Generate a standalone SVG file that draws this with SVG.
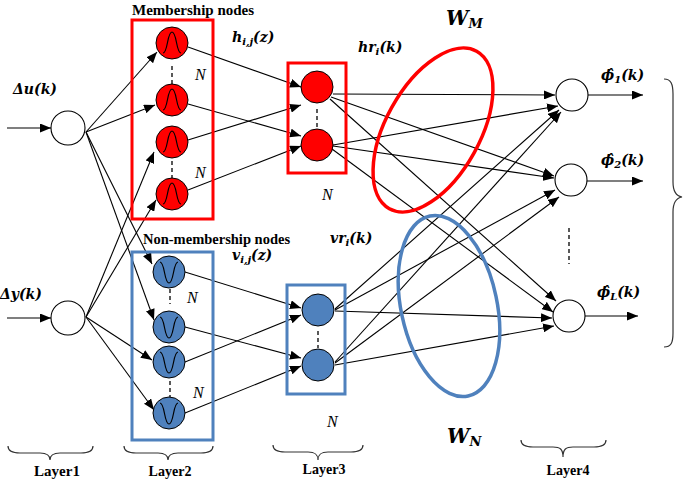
<svg xmlns="http://www.w3.org/2000/svg" width="685" height="482" viewBox="0 0 685 482">
<defs>
<marker id="ah" markerUnits="userSpaceOnUse" markerWidth="11" markerHeight="9" refX="11" refY="4.5" orient="auto">
<path d="M0,0 L11,4.5 L0,9 z" fill="#000"/>
</marker>
<style>
.ln{stroke:#000;stroke-width:1.1;fill:none}
.ar{stroke:#000;stroke-width:1.1;fill:none;marker-end:url(#ah)}
.wn{fill:#fff;stroke:#000;stroke-width:1.1}
.rn{fill:#ff0000;stroke:#000;stroke-width:1}
.bn{fill:#4f81bd;stroke:#000;stroke-width:1}
.gl{fill:none;stroke:#000;stroke-width:1.2}
.ds{stroke:#000;stroke-width:1.3;stroke-dasharray:4,3}
.rb{fill:none;stroke:#ff0000;stroke-width:3}
.bb{fill:none;stroke:#4f81bd;stroke-width:3}
.br{fill:none;stroke:#333;stroke-width:1.2}
.m{font-family:"DejaVu Serif",serif;font-weight:bold;font-style:italic;font-size:14px;fill:#000}
.t{font-family:"Liberation Serif",serif;font-weight:bold;font-size:14px;fill:#000}
.n{font-family:"Liberation Serif",serif;font-style:italic;font-size:16px;fill:#000}
</style>
</defs>

<g id="connectors">
<path class="ar" d="M7,128 L51,128"/>
<path class="ar" d="M7,318 L51,318"/>
<path class="ar" d="M86,132 L157,52"/>
<path class="ar" d="M86,132 L155,105"/>
<path class="ar" d="M86,132 L152,264"/>
<path class="ar" d="M86,132 L154,320"/>
<path class="ar" d="M86,317 L154,152"/>
<path class="ar" d="M86,317 L156,200"/>
<path class="ar" d="M86,317 L152,360"/>
<path class="ar" d="M86,317 L154,410"/>
<path class="ar" d="M188,47 L301,87"/>
<path class="ar" d="M188,104 L301,136"/>
<path class="ar" d="M188,140 L301,105"/>
<path class="ar" d="M188,190 L301,146"/>
<path class="ar" d="M185,272 L301,308"/>
<path class="ar" d="M185,327 L301,358"/>
<path class="ar" d="M185,362 L301,315"/>
<path class="ar" d="M185,413 L301,366"/>
<path class="ar" d="M333,94 L555,95"/>
<path class="ar" d="M331,97 L554,176"/>
<path class="ar" d="M330,99 L556,301"/>
<path class="ar" d="M333,145 L558,106"/>
<path class="ar" d="M333,146 L554,178"/>
<path class="ar" d="M332,149 L553,312"/>
<path class="ar" d="M335,309 L559,110"/>
<path class="ar" d="M335,310 L555,190"/>
<path class="ar" d="M335,311 L552,318"/>
<path class="ar" d="M335,362 L561,112"/>
<path class="ar" d="M335,363 L559,197"/>
<path class="ar" d="M335,365 L554,326"/>
<path class="ar" d="M588,95 L643,95"/>
<path class="ar" d="M587,181 L643,181"/>
<path class="ar" d="M585,316 L638,316"/>
</g>

<g id="membership-box">
<rect class="rb" x="132" y="20" width="81" height="199"/>
<text class="t" x="132" y="15" style="font-size:15px">Membership nodes</text>
<line class="ds" x1="172" y1="66" x2="172" y2="84"/>
<line class="ds" x1="172" y1="161" x2="172" y2="178"/>
<text class="n" x="195" y="80">N</text>
<text class="n" x="195" y="178">N</text>
</g>
<g id="nonmembership-box">
<rect class="bb" x="132" y="252" width="81" height="188"/>
<text class="t" x="143" y="244" style="font-size:14.5px">Non-membership nodes</text>
<line class="ds" x1="170" y1="289" x2="170" y2="304"/>
<line class="ds" x1="170" y1="381" x2="170" y2="397"/>
<text class="n" x="187" y="303">N</text>
<text class="n" x="193" y="398">N</text>
</g>

<g id="input-u"><circle class="wn" cx="68" cy="128" r="17"/><text class="m" x="13" y="94">Δu(k)</text></g>
<g id="input-y"><circle class="wn" cx="68" cy="318" r="17"/><text class="m" x="0" y="299">Δy(k)</text></g>

<g id="m1"><circle class="rn" cx="172" cy="43" r="16"/><path class="gl" d="M163,53 C168,53 167,32 172,32 C177,32 176,53 181,53"/></g>
<g id="m2"><circle class="rn" cx="172" cy="100" r="16"/><path class="gl" d="M163,110 C168,110 167,89 172,89 C177,89 176,110 181,110"/></g>
<g id="m3"><circle class="rn" cx="172" cy="142" r="16"/><path class="gl" d="M163,152 C168,152 167,131 172,131 C177,131 176,152 181,152"/></g>
<g id="m4"><circle class="rn" cx="172" cy="194" r="16"/><path class="gl" d="M163,204 C168,204 167,183 172,183 C177,183 176,204 181,204"/></g>

<g id="n1"><circle class="bn" cx="169" cy="272" r="16"/><path class="gl" d="M160,262 C165,262 164,283 169,283 C174,283 173,262 178,262"/></g>
<g id="n2"><circle class="bn" cx="169" cy="327" r="16"/><path class="gl" d="M160,317 C165,317 164,338 169,338 C174,338 173,317 178,317"/></g>
<g id="n3"><circle class="bn" cx="169" cy="362" r="16"/><path class="gl" d="M160,352 C165,352 164,373 169,373 C174,373 173,352 178,352"/></g>
<g id="n4"><circle class="bn" cx="169" cy="413" r="16"/><path class="gl" d="M160,403 C165,403 164,424 169,424 C174,424 173,403 178,403"/></g>

<g id="hr-box">
<rect class="rb" x="288" y="63" width="58" height="110"/>
<line class="ds" x1="317" y1="109" x2="317" y2="127"/>
<text class="n" x="322" y="200">N</text>
</g>
<g id="hr1"><circle class="rn" cx="317" cy="87" r="16"/></g>
<g id="hr2"><circle class="rn" cx="317" cy="145" r="16"/></g>

<g id="vr-box">
<rect class="bb" x="287" y="285" width="58" height="109"/>
<line class="ds" x1="318" y1="331" x2="318" y2="348"/>
<text class="n" x="327" y="427">N</text>
</g>
<g id="vr1"><circle class="bn" cx="318" cy="310" r="16"/></g>
<g id="vr2"><circle class="bn" cx="318" cy="365" r="16"/></g>

<g id="labels">
<text class="m" x="232" y="42">h<tspan dy="3" style="font-size:10px">i,j</tspan><tspan dy="-3">(z)</tspan></text>
<text class="m" x="358" y="52">hr<tspan dy="3" style="font-size:10px">i</tspan><tspan dy="-3">(k)</tspan></text>
<text class="m" x="232" y="260">v<tspan dy="3" style="font-size:10px">i,j</tspan><tspan dy="-3">(z)</tspan></text>
<text class="m" x="330" y="243">vr<tspan dy="3" style="font-size:10px">i</tspan><tspan dy="-3">(k)</tspan></text>
</g>

<g id="WM">
<ellipse cx="433" cy="130" rx="90" ry="47" transform="rotate(-61 433 130)" style="fill:none;stroke:#ff0000;stroke-width:3.5"/>
<text class="m" x="446" y="25" style="font-size:20px">W<tspan dy="3" style="font-size:13px">M</tspan></text>
</g>
<g id="WN">
<ellipse cx="449" cy="306" rx="92" ry="48" transform="rotate(78 449 306)" style="fill:none;stroke:#4f81bd;stroke-width:3.5"/>
<text class="m" x="447" y="443" style="font-size:20px">W<tspan dy="3" style="font-size:13px">N</tspan></text>
</g>

<g id="out1"><circle class="wn" cx="572" cy="95" r="16"/><text class="m" x="601" y="80">ϕ̂<tspan dy="3" style="font-size:10px">1</tspan><tspan dy="-3">(k)</tspan></text></g>
<g id="out2"><circle class="wn" cx="571" cy="180" r="16"/><text class="m" x="601" y="165">ϕ̂<tspan dy="3" style="font-size:10px">2</tspan><tspan dy="-3">(k)</tspan></text></g>
<g id="outL"><circle class="wn" cx="569" cy="316" r="16"/><text class="m" x="597" y="297">ϕ̂<tspan dy="3" style="font-size:10px">L</tspan><tspan dy="-3">(k)</tspan></text></g>
<line class="ds" x1="569" y1="228" x2="569" y2="264"/>

<g id="braces">
<path class="br" d="M664,79 C671,79 673,84 673,94 L673,182 C673,192 676,196 682,197 C676,198 673,202 673,212 L673,333 C673,343 671,347 664,347"/>
<path class="br" d="M8,446 C8,451 12,453 20,453 L40,453 C47,453 50,455 50,460 C50,455 53,453 60,453 L81,453 C89,453 93,451 93,446"/>
<path class="br" d="M124,446 C124,451 128,453 136,453 L158,453 C165,453 168,455 168,460 C168,455 171,453 178,453 L201,453 C209,453 213,451 213,446"/>
<path class="br" d="M273,445 C273,450 277,452 285,452 L308,452 C315,452 318,454 318,460 C318,454 321,452 328,452 L351,452 C359,452 363,450 363,445"/>
<path class="br" d="M521,440 C521,445 525,447 533,447 L553,447 C560,447 563,449 563,457 C563,449 566,447 573,447 L594,447 C602,447 606,445 606,440"/>
</g>
<g id="layer-labels">
<text class="t" x="57" y="476" text-anchor="middle" style="font-size:15px">Layer1</text>
<text class="t" x="170" y="476" text-anchor="middle">Layer2</text>
<text class="t" x="324" y="474" text-anchor="middle">Layer3</text>
<text class="t" x="568" y="475" text-anchor="middle">Layer4</text>
</g>
</svg>
